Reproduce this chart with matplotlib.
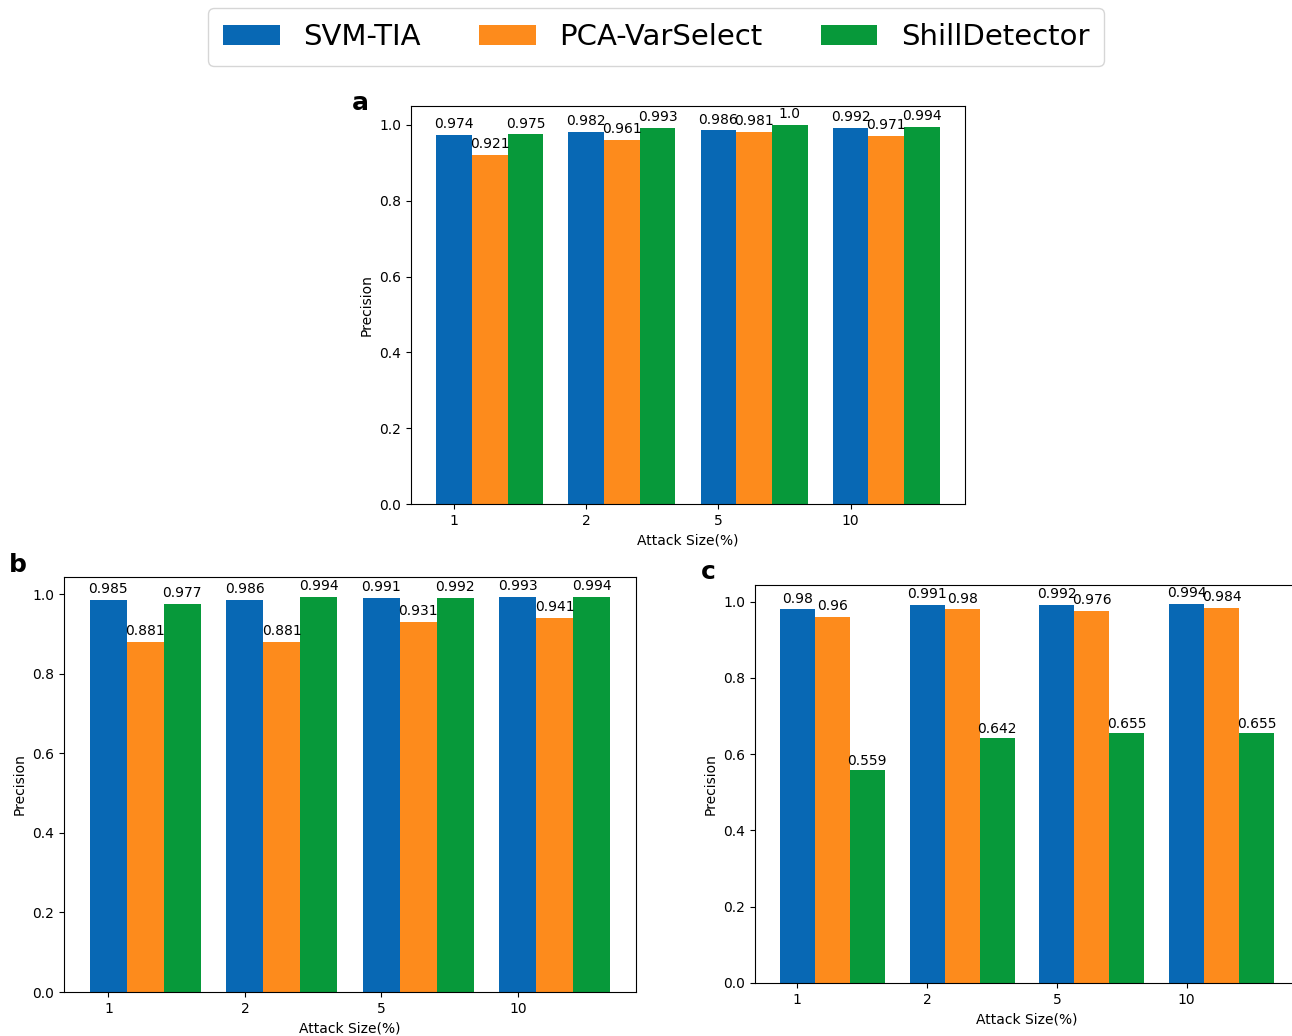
import matplotlib.pyplot as plt
import numpy as np

# data
attack_sizes = ['1', '2', '5', '10']
methods = ['SVM-TIA', 'PCA-VarSelect', 'ShillDetector']
colors = ['#0868b4', '#fd8b1c', '#07993a']

prec_a = {
    'SVM-TIA': ['0.974', '0.982', '0.986', '0.992'],
    'PCA-VarSelect': ['0.921', '0.961', '0.981', '0.971'],
    'ShillDetector': ['0.975', '0.993', '1.0', '0.994'],
}
prec_b = {
    'SVM-TIA': ['0.985', '0.986', '0.991', '0.993'],
    'PCA-VarSelect': ['0.881', '0.881', '0.931', '0.941'],
    'ShillDetector': ['0.977', '0.994', '0.992', '0.994'],
}
prec_c = {
    'SVM-TIA': ['0.98', '0.991', '0.992', '0.994'],
    'PCA-VarSelect': ['0.96', '0.98', '0.976', '0.984'],
    'ShillDetector': ['0.559', '0.642', '0.655', '0.655'],
}

W = 1292
H = 1036
fig = plt.figure(figsize=(W / 100, H / 100), dpi=100)


def px_axes(left, top, right, bottom):
    return fig.add_axes([left / W, 1 - bottom / H, (right - left) / W, (bottom - top) / H])


def bar_panel(ax, data):
    x = np.arange(len(attack_sizes))
    w = 0.27
    handles = []
    for k, m in enumerate(methods):
        vals = [float(v) for v in data[m]]
        bars = ax.bar(x + k * w, vals, w, color=colors[k], label=m)
        handles.append(bars)
        for rect, txt in zip(bars, data[m]):
            h = rect.get_height()
            ax.text(rect.get_x() + rect.get_width() / 2, 1.01 * h, txt,
                    ha='center', va='bottom', fontsize=10)
    ax.set_xticks(x)
    ax.set_xticklabels(attack_sizes)
    ax.set_yticks(np.arange(0, 1.01, 0.2))
    ax.set_xlabel('Attack Size(%)', fontsize=10)
    ax.set_ylabel('Precision', fontsize=10)
    ax.tick_params(labelsize=10)
    return handles


ax_a = px_axes(411, 106, 965, 504)
handles = bar_panel(ax_a, prec_a)
ax_b = px_axes(64, 577, 636, 992)
bar_panel(ax_b, prec_b)
# panel c runs past the right edge of the figure, as in the source image
ax_c = px_axes(755, 585, 1299, 983)
bar_panel(ax_c, prec_c)
ax_c.spines['right'].set_visible(False)

fig.text(360 / W, 1 - 103 / H, 'a', fontsize=18, fontweight='bold', ha='center', va='center')
fig.text(18 / W, 1 - 565 / H, 'b', fontsize=18, fontweight='bold', ha='center', va='center')
fig.text(708 / W, 1 - 572 / H, 'c', fontsize=18, fontweight='bold', ha='center', va='center')

fig.legend(handles, methods, loc='center', bbox_to_anchor=(656 / W, 1 - 37 / H),
           ncol=3, fontsize=21, frameon=True, handlelength=1.95,
           columnspacing=2.0, borderpad=0.5)

plt.savefig('out.png', dpi=100)
